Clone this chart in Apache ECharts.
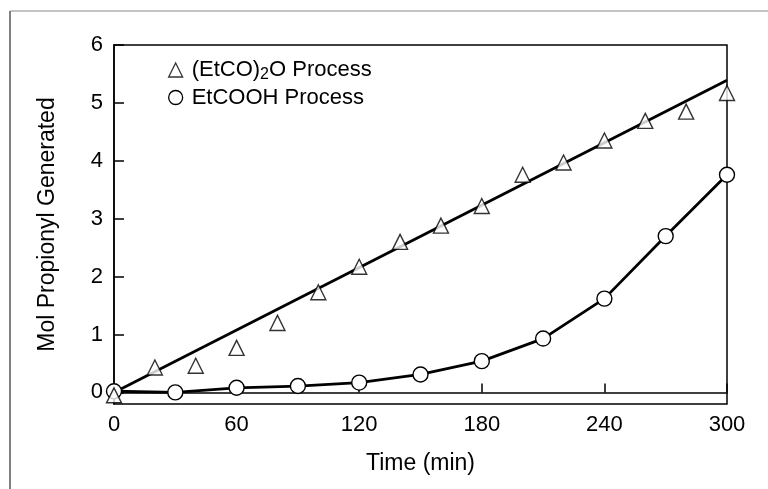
<!DOCTYPE html>
<html>
<head>
<meta charset="utf-8">
<script src="https://cdn.jsdelivr.net/npm/echarts@6/dist/echarts.min.js"></script>
<style>
  html, body { margin: 0; padding: 0; background: #fff; }
  #chart { width: 768px; height: 489px; }
</style>
</head>
<body>
<div id="chart"></div>
<script>
// (EtCO)2O process: sampled every 20 min
const anhydrideTime = [0, 20, 40, 60, 80, 100, 120, 140, 160, 180, 200, 220, 240, 260, 280, 300];
const anhydrideMol  = [-0.05, 0.43, 0.46, 0.77, 1.2, 1.73, 2.17, 2.6, 2.88, 3.22, 3.76, 3.97, 4.35, 4.69, 4.85, 5.17];

// Straight-line fit through the anhydride data
const fitTime = [0, 300];
const fitMol  = [0, 5.39];

// EtCOOH process: sampled every 30 min
const acidTime = [0, 30, 60, 90, 120, 150, 180, 210, 240, 270, 300];
const acidMol  = [0.02, 0, 0.08, 0.11, 0.17, 0.31, 0.54, 0.93, 1.62, 2.7, 3.76];

const xTicks = [0, 60, 120, 180, 240, 300];
const yTicks = [0, 1, 2, 3, 4, 5, 6];

const pairs = (xs, ys) => xs.map((x, i) => [x, ys[i]]);

const FONT = '"Liberation Sans", Arial, Helvetica, sans-serif';
const FS = 22;
const TITLE_FS = 23;

const chart = echarts.init(document.getElementById('chart'), null, { renderer: 'canvas' });

chart.setOption({
  animation: false,
  backgroundColor: '#fff',
  textStyle: { fontFamily: FONT, color: '#000' },
  grid: {
    left: 114, right: 41, top: 45, bottom: 85,
    show: true, borderColor: '#000', borderWidth: 1.5
  },
  legend: {
    left: 163, top: 54, orient: 'vertical', itemGap: 4,
    itemWidth: 14, itemHeight: 14,
    textStyle: {
      fontFamily: FONT, fontSize: FS, color: '#000',
      padding: [0, 0, 0, 4],
      rich: {
        n: { fontFamily: FONT, fontSize: FS, color: '#000' },
        s: { fontFamily: FONT, fontSize: 16, color: '#000', verticalAlign: 'bottom', padding: [9, 0, 0, 0] }
      }
    },
    formatter: (name) => name === 'anhydride'
      ? '{n|(EtCO)}{s|2}{n|O Process}'
      : '{n|EtCOOH Process}',
    data: [
      { name: 'anhydride', icon: 'triangle', itemStyle: { color: '#fff', borderColor: '#000', borderWidth: 1.3 } },
      { name: 'acid', icon: 'circle', itemStyle: { color: '#fff', borderColor: '#000', borderWidth: 1.3 } }
    ]
  },
  xAxis: {
    type: 'value', min: 0, max: 300, interval: 60,
    name: 'Time (min)', nameLocation: 'middle', nameGap: 48,
    nameTextStyle: { fontFamily: FONT, fontSize: TITLE_FS, color: '#000' },
    axisLine: { show: true, lineStyle: { color: '#000', width: 1.5 } },
    axisTick: { show: true, inside: true, length: 9, lineStyle: { color: '#000', width: 1.5 } },
    axisLabel: { fontFamily: FONT, fontSize: FS, color: '#000', margin: 10,
      customValues: xTicks },
    splitLine: { show: false }
  },
  yAxis: {
    type: 'value', min: -0.2, max: 6,
    name: 'Mol Propionyl Generated', nameLocation: 'middle', nameGap: 55,
    nameTextStyle: { fontFamily: FONT, fontSize: TITLE_FS, color: '#000' },
    axisLine: { show: true, lineStyle: { color: '#000', width: 1.5 } },
    axisTick: { show: true, inside: true, length: 10, customValues: yTicks,
      lineStyle: { color: '#000', width: 1.5 } },
    axisLabel: { fontFamily: FONT, fontSize: FS, color: '#000', margin: 11,
      customValues: yTicks },
    splitLine: { show: false }
  },
  series: [
    {
      name: 'fit', type: 'line', data: pairs(fitTime, fitMol),
      showSymbol: false, symbol: 'none', z: 2,
      lineStyle: { color: '#000', width: 2.8 }
    },
    {
      name: 'acid', type: 'line', data: pairs(acidTime, acidMol),
      symbol: 'circle', symbolSize: 15, z: 3,
      lineStyle: { color: '#000', width: 2.8 },
      itemStyle: { color: '#fff', borderColor: '#000', borderWidth: 1.4 }
    },
    {
      name: 'anhydride', type: 'scatter', data: pairs(anhydrideTime, anhydrideMol),
      symbol: 'triangle', symbolSize: [15, 15], z: 4,
      itemStyle: { color: '#fff', borderColor: '#000', borderWidth: 1.4 }
    }
  ],
  graphic: [
    { type: 'line', shape: { x1: 10, y1: 11, x2: 768, y2: 11 }, style: { stroke: '#b0b0b0', lineWidth: 1.5 }, silent: true },
    { type: 'line', shape: { x1: 10, y1: 11, x2: 10, y2: 489 }, style: { stroke: '#808080', lineWidth: 2 }, silent: true }
  ]
});
</script>
</body>
</html>
